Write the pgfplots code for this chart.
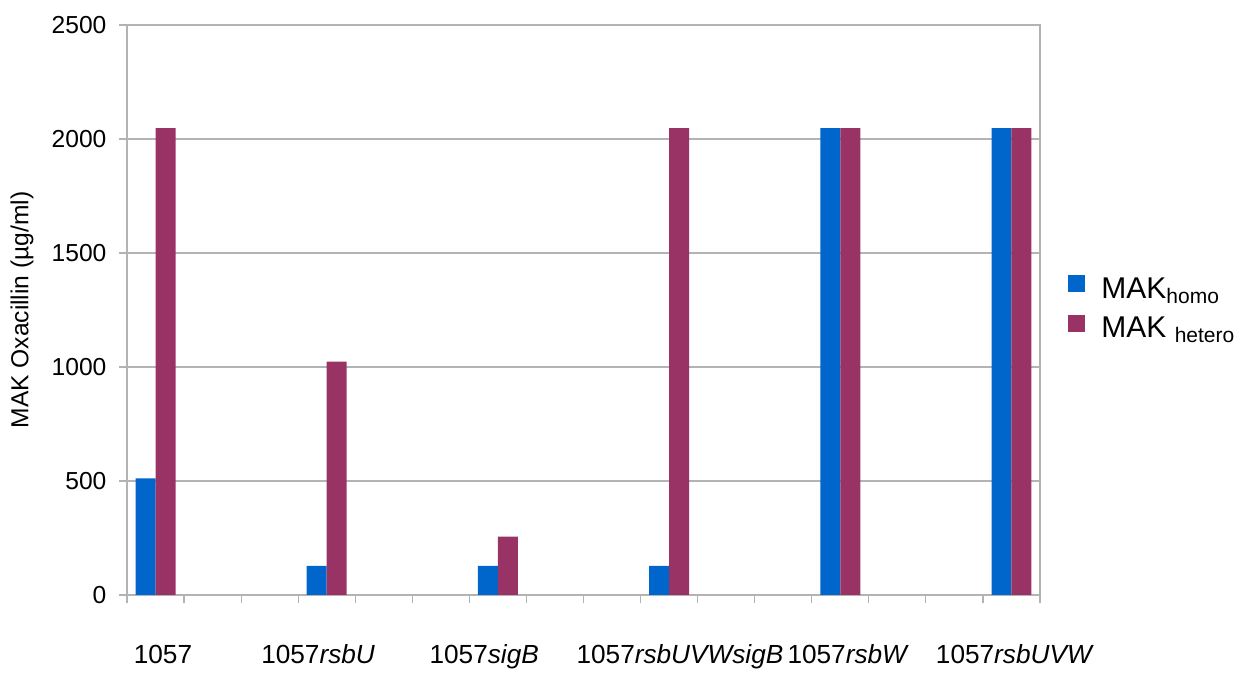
\documentclass[border=0pt]{standalone}
\usepackage{pgfplots}
\pgfplotsset{compat=1.18}
\usepackage{fontspec}
\setmainfont{Liberation Sans}
\definecolor{homo}{RGB}{0,102,204}
\definecolor{hetero}{RGB}{153,51,102}
\definecolor{gridgray}{RGB}{179,179,179}

\begin{document}
\fontsize{12.3}{14.5}\selectfont
\begin{tikzpicture}
\begin{axis}[
    name=ax,
    scale only axis,
    width=456.5pt, height=285pt,
    xmin=-0.5, xmax=15.5,
    ymin=0, ymax=2500,
    ybar=0pt, bar width=0.35,
    xtick={-0.5,0.5,...,15.5}, xticklabels={},
    ytick={0,500,1000,1500,2000,2500},
    xtick pos=bottom, ytick pos=left,
    tick align=outside, major tick length=4pt,
    tick style={gridgray, line width=0.6pt},
    axis line style={gridgray, line width=0.6pt},
    ymajorgrids=true,
    grid style={gridgray, line width=0.6pt},
    /pgf/number format/assume math mode=true,
    /pgf/number format/1000 sep={},
    yticklabel style={font=\fontsize{12.3}{14.5}\selectfont, xshift=-2pt},
    extra x ticks={0.13,2.85,5.76,9.19,12.14,15.06},
    extra x tick labels={1057, 1057\textit{rsbU}, 1057\textit{sigB}, 1057\textit{rsbUVWsigB}, 1057\textit{rsbW}, 1057\textit{rsbUVW}},
    extra x tick style={major tick length=0pt, tick label style={anchor=base, yshift=-34.5pt, font=\fontsize{13.1}{15}\selectfont}},
    ylabel={MAK Oxacillin (µg/ml)},
    ylabel style={at={(axis description cs:-0.115,0.5)}, anchor=center, font=\fontsize{12.3}{14.5}\selectfont},
    legend style={at={(1.0307,0.501)}, anchor=west, draw=none, fill=none, inner sep=0pt,
        row sep=3.5pt, column sep=6pt, nodes={inner sep=2pt}, font=\fontsize{15}{17}\selectfont},
    legend cell align=left,
]
\addplot[fill=homo, draw=none,
    legend image code/.code={\fill[homo] (0pt,-1.25pt) rectangle (8.5pt,7.25pt);}]
    coordinates {(0,512) (3,128) (6,128) (9,128) (12,2048) (15,2048)};
\addlegendentry{MAK\textsubscript{homo}}
\addplot[fill=hetero, draw=none,
    legend image code/.code={\fill[hetero] (0pt,-1.25pt) rectangle (8.5pt,7.25pt);}]
    coordinates {(0,2048) (3,1024) (6,256) (9,2048) (12,2048) (15,2048)};
\addlegendentry{MAK \textsubscript{hetero}}
\end{axis}
\path (ax.south west) ++(-63.5pt,-36.5pt) rectangle ++(626.5pt,334pt);
\end{tikzpicture}
\end{document}
